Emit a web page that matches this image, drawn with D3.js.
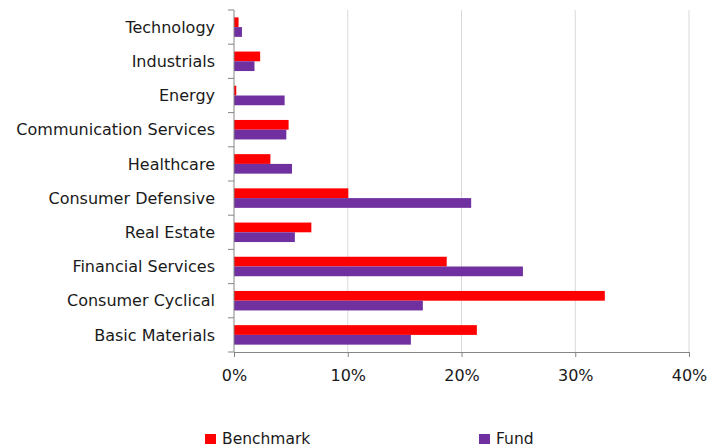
<!DOCTYPE html>
<html>
<head>
<meta charset="utf-8">
<script src="https://cdn.jsdelivr.net/npm/d3@7"></script>
<style>
  body { margin: 0; background: #fff; }
  text { font-family: "DejaVu Sans", Verdana, sans-serif; fill: #1a1a1a; }
</style>
</head>
<body>
<script>
"use strict";

// Sectors, top to bottom as drawn.
var sectors = ["Technology", "Industrials", "Energy", "Communication Services", "Healthcare",
  "Consumer Defensive", "Real Estate", "Financial Services", "Consumer Cyclical", "Basic Materials"];
var benchmark = [0.4, 2.3, 0.2, 4.8, 3.2, 10.05, 6.8, 18.7, 32.6, 21.35];
var fund = [0.7, 1.8, 4.45, 4.6, 5.1, 20.85, 5.35, 25.4, 16.6, 15.55];
var seriesNames = ["Benchmark", "Fund"];
var seriesColors = ["#ff0000", "#7030a0"];
var xTicks = [0, 10, 20, 30, 40];

var width = 725, height = 448;
var plotLeft = 234, plotRight = 689, plotTop = 10, plotBottom = 352;

var svg = d3.select("body").append("svg")
  .attr("width", width)
  .attr("height", height);

var x = d3.scaleLinear().domain([0, 40]).range([plotLeft, plotRight]);
var y = d3.scaleBand().domain(sectors).range([plotTop, plotBottom]).paddingInner(0.43).paddingOuter(0.215);
var ySub = d3.scaleBand().domain(seriesNames).range([0, y.bandwidth()]);

// Gridlines.
svg.append("g")
  .selectAll("line")
  .data(xTicks.slice(1))
  .enter().append("line")
  .attr("x1", function(d) { return x(d); })
  .attr("x2", function(d) { return x(d); })
  .attr("y1", plotTop)
  .attr("y2", plotBottom)
  .attr("stroke", "#d9d9d9")
  .attr("stroke-width", 1);

// Bars.
var rows = sectors.map(function(s, i) {
  return { sector: s, values: [benchmark[i], fund[i]] };
});
var groups = svg.append("g")
  .selectAll("g")
  .data(rows)
  .enter().append("g")
  .attr("transform", function(d) { return "translate(0," + y(d.sector) + ")"; });
groups.selectAll("rect")
  .data(function(d) { return d.values.map(function(v, j) { return { v: v, j: j }; }); })
  .enter().append("rect")
  .attr("x", x(0))
  .attr("y", function(d) { return ySub(seriesNames[d.j]); })
  .attr("width", function(d) { return x(d.v) - x(0); })
  .attr("height", ySub.bandwidth())
  .attr("fill", function(d) { return seriesColors[d.j]; });

// X axis.
var xAxis = svg.append("g")
  .attr("transform", "translate(0," + plotBottom + ")")
  .call(d3.axisBottom(x).tickValues(xTicks).tickSize(5).tickPadding(13)
    .tickFormat(function(d) { return d + "%"; }));
xAxis.select(".domain").attr("stroke", "#868686");
xAxis.selectAll(".tick line").attr("stroke", "#868686");
xAxis.selectAll("text").attr("font-size", 16).attr("fill", "#1a1a1a")
  .style("font-family", "DejaVu Sans, Verdana, sans-serif");

// Y axis: ticks sit on category boundaries.
var yEdges = d3.scaleLinear().domain([0, sectors.length]).range([plotTop, plotBottom]);
var yAxisG = svg.append("g");
yAxisG.append("line")
  .attr("x1", plotLeft).attr("x2", plotLeft)
  .attr("y1", plotTop).attr("y2", plotBottom)
  .attr("stroke", "#868686");
yAxisG.selectAll(".edge")
  .data(d3.range(sectors.length + 1))
  .enter().append("line")
  .attr("class", "edge")
  .attr("x1", plotLeft - 6).attr("x2", plotLeft)
  .attr("y1", function(d) { return yEdges(d); })
  .attr("y2", function(d) { return yEdges(d); })
  .attr("stroke", "#868686");
yAxisG.selectAll("text")
  .data(sectors)
  .enter().append("text")
  .attr("x", 215)
  .attr("y", function(d) { return y(d) + y.bandwidth() / 2; })
  .attr("dy", "0.35em")
  .attr("text-anchor", "end")
  .attr("font-size", 16)
  .text(function(d) { return d; });

// Legend.
var legendX = [205, 479];
var legend = svg.append("g")
  .selectAll("g")
  .data(seriesNames)
  .enter().append("g")
  .attr("transform", function(d, i) { return "translate(" + legendX[i] + ",434)"; });
legend.append("rect")
  .attr("width", 11)
  .attr("height", 10)
  .attr("fill", function(d, i) { return seriesColors[i]; });
legend.append("text")
  .attr("x", 17)
  .attr("y", 5)
  .attr("dy", "0.35em")
  .attr("font-size", 15.5)
  .text(function(d) { return d; });
</script>
</body>
</html>
